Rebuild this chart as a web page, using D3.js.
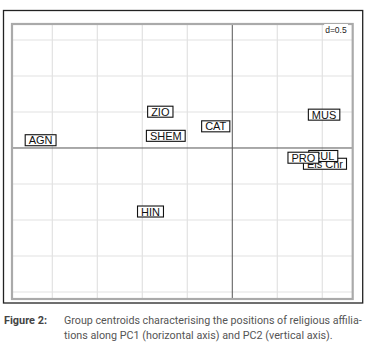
<!DOCTYPE html>
<html><head><meta charset="utf-8">
<script src="https://cdn.jsdelivr.net/npm/d3@7"></script>
<style>body{margin:0;background:#fff}svg{display:block}</style>
</head><body>
<svg id="c" width="368" height="348"></svg>
<script>
const labels = ["AGN","CAT","HIN","MUS","SHEM","ZIO","Eis Chr","CUL","PRO"];
const pc1 = [-2.13,-0.184,-0.909,1.02,-0.739,-0.80,1.03,1.011,0.79];
const pc2 = [0.108,0.301,-0.882,0.463,0.169,0.504,-0.219,-0.111,-0.135];
const gridX = [-2,-1.5,-1,-0.5,0.5,1];
const gridY = [-2,-1.5,-1,-0.5,0.5,1,1.5];
const gridLabel = "d=0.5";
const captionHead = "Figure 2:";
const captionLines = ["Group centroids characterising the positions of religious affilia-",
                      "tions along PC1 (horizontal axis) and PC2 (vertical axis)."];

const svg = d3.select("#c");
const x = d3.scaleLinear().domain([-2.448,1.338]).range([12,352.7]);
const y = d3.scaleLinear().domain([-2.097,1.722]).range([299,24]);

// outer frame
svg.append("rect").attr("x",3.5).attr("y",10.5).attr("width",359.2).attr("height",292.5)
  .attr("fill","#fff").attr("stroke","#222").attr("stroke-width",1.3);

const g = svg.append("g");
g.selectAll(".gx").data(gridX).join("line")
  .attr("x1",d=>x(d)).attr("x2",d=>x(d)).attr("y1",y.range()[1]).attr("y2",y.range()[0])
  .attr("stroke","#e2e2e2").attr("stroke-width",1.2);
g.selectAll(".gy").data(gridY).join("line")
  .attr("y1",d=>y(d)).attr("y2",d=>y(d)).attr("x1",x.range()[0]).attr("x2",x.range()[1])
  .attr("stroke","#e2e2e2").attr("stroke-width",1.2);

// axes through origin
g.append("line").attr("x1",x(0)).attr("x2",x(0)).attr("y1",y.range()[1]).attr("y2",y.range()[0])
  .attr("stroke","#555").attr("stroke-width",1);
g.append("line").attr("y1",y(0)).attr("y2",y(0)).attr("x1",x.range()[0]).attr("x2",x.range()[1])
  .attr("stroke","#555").attr("stroke-width",1);

// inner border
g.append("rect").attr("x",x.range()[0]).attr("y",y.range()[1])
  .attr("width",x.range()[1]-x.range()[0]).attr("height",y.range()[0]-y.range()[1])
  .attr("fill","none").attr("stroke","#aaa").attr("stroke-width",2.2);

// d=0.5 label
const dl = g.append("text").attr("x",x.range()[1]-6).attr("y",33).attr("text-anchor","end")
  .attr("font-family","Liberation Sans, Arial, sans-serif").attr("font-size",8.5).attr("fill","#222")
  .text(gridLabel);
const db = dl.node().getBBox();
g.insert("rect","text").attr("x",db.x-1).attr("y",db.y-1).attr("width",db.width+2).attr("height",db.height+2).attr("fill","#fff");

// labels
const pts = labels.map((l,i)=>({l,x:pc1[i],y:pc2[i]}));
const lg = g.selectAll(".lab").data(pts).join("g").attr("transform",d=>`translate(${x(d.x)},${y(d.y)})`);
const rects = lg.append("rect").attr("fill","#fff").attr("stroke","#111").attr("stroke-width",1.1);
const texts = lg.append("text").attr("text-anchor","middle").attr("y",4.1)
  .attr("font-family","Liberation Sans, Arial, sans-serif").attr("font-size",11).attr("fill","#111")
  .text(d=>d.l);
texts.each(function(d){
  const w = this.getComputedTextLength();
  d3.select(this.parentNode).select("rect").attr("x",-w/2-3.5).attr("y",-5.5).attr("width",w+7).attr("height",11);
});

// caption
const cf = "Liberation Sans Narrow, Arial Narrow, Roboto, Liberation Sans, sans-serif";
svg.append("text").attr("x",4).attr("y",324).attr("font-family",cf).attr("font-size",10.5)
  .attr("font-weight","bold").attr("fill","#444").attr("textLength",43)
  .attr("lengthAdjust","spacingAndGlyphs").text(captionHead);
svg.append("text").attr("x",64).attr("y",324).attr("font-family",cf).attr("font-size",10.5)
  .attr("fill","#555").attr("textLength",297.7).attr("lengthAdjust","spacingAndGlyphs").text(captionLines[0]);
svg.append("text").attr("x",64).attr("y",338.5).attr("font-family",cf).attr("font-size",10.5)
  .attr("fill","#555").attr("textLength",268.7).attr("lengthAdjust","spacingAndGlyphs").text(captionLines[1]);
</script>
</body></html>
